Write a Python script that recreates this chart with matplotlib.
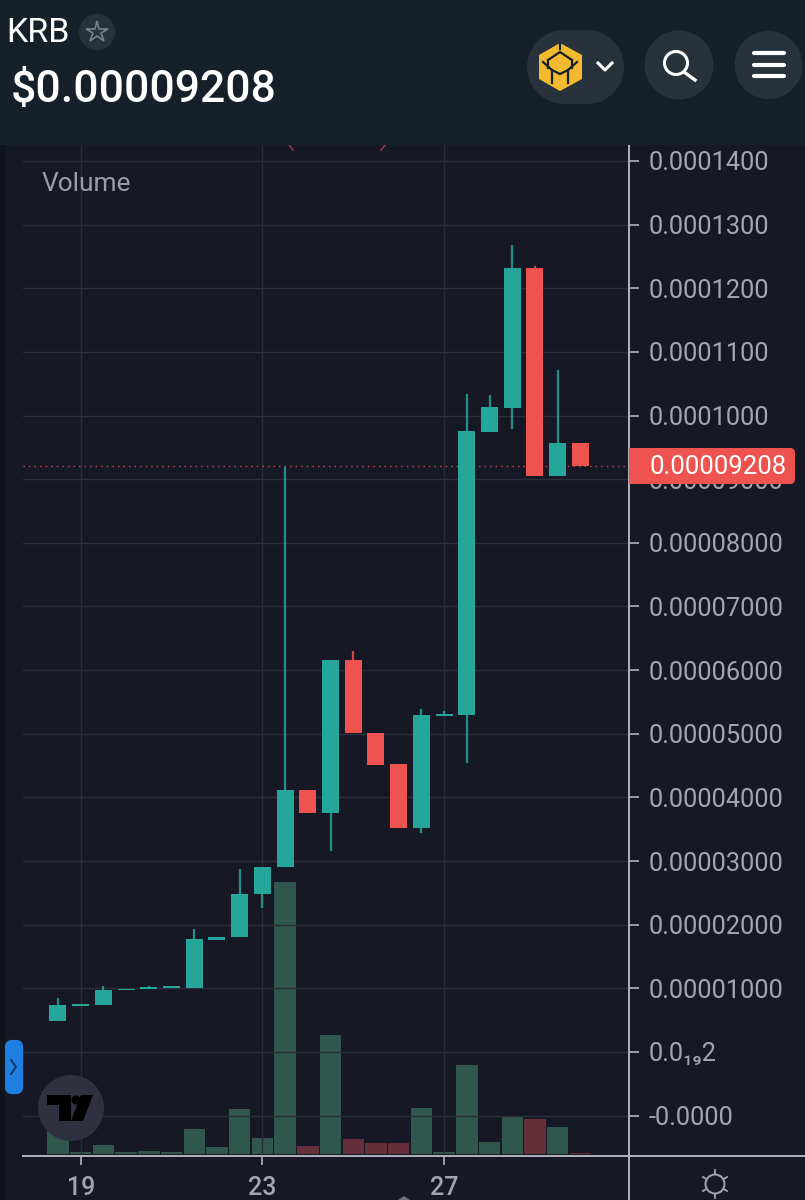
# KRB 12h candles with volume, dark mobile chart
import numpy as np
import matplotlib.pyplot as plt
from matplotlib.patches import Rectangle, Circle, FancyBboxPatch, Polygon, Ellipse

plt.rcParams['font.family'] = ['Roboto', 'DejaVu Sans']

# candles, prices in units of 0.00001
days = [18.5, 19, 19.5, 20, 20.5, 21, 21.5, 22, 22.5, 23, 23.5, 24,
        24.5, 25, 25.5, 26, 26.5, 27, 27.5, 28, 28.5, 29, 29.5, 30]
opens = [0.49, 0.73, 0.74, 0.97, 0.99, 1.01, 1.01, 1.76, 1.81, 2.48, 2.90, 4.12,
         3.75, 6.16, 5.01, 4.52, 3.52, 5.28, 5.30, 9.74, 10.12, 12.32, 9.05, 9.57]
highs = [0.85, 0.76, 1.04, 0.99, 1.04, 1.04, 1.93, 1.81, 2.88, 2.91, 9.19, 4.12,
         6.16, 6.30, 5.01, 4.52, 5.39, 5.36, 10.34, 10.32, 12.68, 12.35, 10.71, 9.57]
lows = [0.49, 0.73, 0.74, 0.97, 0.99, 1.01, 1.01, 1.76, 1.81, 2.26, 2.90, 3.75,
        3.16, 5.01, 4.51, 3.52, 3.44, 5.28, 4.54, 9.74, 9.79, 9.05, 9.05, 9.208]
closes = [0.74, 0.75, 0.97, 0.99, 1.02, 1.03, 1.78, 1.80, 2.48, 2.91, 4.12, 3.75,
          6.16, 5.01, 4.51, 3.52, 5.29, 5.31, 9.76, 10.13, 12.32, 9.05, 9.57, 9.208]
volumes = [30, 2, 9, 2, 3.5, 2, 25, 7, 45, 16, 272, 8,
           119, 15, 11, 11, 46, 2, 89, 12, 38, 35, 27, 1]

last_price = 9.208
y_ticks = [14, 13, 12, 11, 10, 9, 8, 7, 6, 5, 4, 3, 2, 1, 0, -1]
y_labels = ['0.0001400', '0.0001300', '0.0001200', '0.0001100', '0.0001000',
            '0.00009000', '0.00008000', '0.00007000', '0.00006000', '0.00005000',
            '0.00004000', '0.00003000', '0.00002000', '0.00001000', '0.0₁₉2', '-0.0000']
x_ticks = [19, 23, 27]
x_labels = ['19', '23', '27']

UP = '#26a69a'
DOWN = '#ef5350'
BG = '#161925'
HEAD = '#15202a'
BTN = '#27323d'
GRID = '#2a2e3a'
AXC = '#b2b5be'
LABEL = '#a3a6af'

fig = plt.figure(figsize=(8.05, 12), dpi=100, facecolor=BG)


def box(left, top, right, bottom):
    return [left / 805, 1 - bottom / 1200, (right - left) / 805, (bottom - top) / 1200]


# volume sits under the price axes
ax_vol = fig.add_axes(box(23, 145, 629, 1156), zorder=1)
ax_vol.set_xlim(17.73, 31.07)
ax_vol.set_ylim(-2, 1009)
ax_vol.axis('off')
vol_cols = ['#2f574b' if c >= o else '#642e3a' for o, c in zip(opens, closes)]
ax_vol.bar(days, volumes, width=0.47, color=vol_cols)

ax = fig.add_axes(box(23, 145, 629, 1156), zorder=2)
ax.patch.set_alpha(0)
ax.set_xlim(17.73, 31.07)
ax.set_ylim(-1.634, 14.25)

cols = [UP if c >= o else DOWN for o, c in zip(opens, closes)]
ax.vlines(days, lows, highs, colors=cols, linewidth=1.6, alpha=0.85, zorder=3)
ax.bar(days, np.abs(np.array(closes) - np.array(opens)), bottom=np.minimum(opens, closes),
       width=0.375, color=cols, zorder=4)
ax.axhline(last_price, color=DOWN, linewidth=1, linestyle=(0, (1, 3)), alpha=0.8, zorder=2)

ax.yaxis.tick_right()
ax.set_yticks(y_ticks)
ax.set_yticklabels(y_labels, fontsize=18.3, color=LABEL)
ax.set_xticks(x_ticks)
ax.set_xticklabels(x_labels, fontsize=18, color=LABEL, fontweight='medium')
ax.tick_params(axis='y', length=7, width=1.2, color=AXC, pad=7)
ax.tick_params(axis='x', length=6.5, width=1.2, color=AXC, pad=8)
ax.grid(True, color=GRID, linewidth=1)
ax.set_axisbelow(True)
for side in ['top', 'left']:
    ax.spines[side].set_visible(False)
for side in ['right', 'bottom']:
    ax.spines[side].set_color(AXC)
    ax.spines[side].set_linewidth(1.4)

# page furniture in pixel coordinates
ov = fig.add_axes([0, 0, 1, 1], zorder=5)
ov.set_xlim(0, 805)
ov.set_ylim(1200, 0)
ov.axis('off')
ov.patch.set_alpha(0)

ov.add_patch(Rectangle((0, 145), 5, 1055, color='#10141c', lw=0))
ov.plot([629, 629], [1156, 1200], color=AXC, lw=1.4)
ov.plot([629, 805], [1156, 1156], color=AXC, lw=1.4)
ov.plot([289, 293], [145, 150], color='#8c3a42', lw=1.2)
ov.plot([385, 381], [145, 150], color='#8c3a42', lw=1.2)
ov.text(42, 184, 'Volume', fontsize=19, color='#9a9da6', va='center', ha='left')

# last price tag
ov.add_patch(FancyBboxPatch((629, 448), 166, 36, boxstyle='round,pad=0,rounding_size=5',
                            fc=DOWN, ec='none', zorder=3))
ov.add_patch(Rectangle((629, 448), 8, 36, color=DOWN, lw=0, zorder=3))
ov.text(649, 466.5, '0.00009208', fontsize=18.5, color='white', va='center', ha='left', zorder=4)

# header
ov.add_patch(Rectangle((0, 0), 805, 145, color=HEAD, lw=0, zorder=6))
ov.text(6, 33, 'KRB', fontsize=24.5, color='white', fontweight='regular', va='center', ha='left', zorder=7)
ov.add_patch(Circle((97, 32), 18, color=BTN, lw=0, zorder=7))
ov.plot([97], [32], marker='*', ms=16, mfc='none', mec='#74828f', mew=1.2, zorder=8)
ov.text(11, 90, '$0.00009208', fontsize=32, color='white', fontweight='medium',
        va='center', ha='left', zorder=7)

ov.add_patch(Rectangle((564, 30), 23, 74, color=BTN, lw=0, zorder=7))
ov.add_patch(Ellipse((564, 67), 74, 74, color=BTN, lw=0, zorder=7))
ov.add_patch(Ellipse((587, 67), 74, 74, color=BTN, lw=0, zorder=7))
ov.add_patch(Polygon([(560, 43), (582, 55), (582, 79), (560, 91), (539, 79), (539, 55)],
                     fc='#f3ba2f', ec='none', zorder=8))
for seg in [[(548, 60), (560, 52), (572, 60)], [(543, 62), (552, 70), (552, 83)],
            [(577, 62), (568, 70), (568, 83)], [(552, 70), (560, 74), (568, 70)],
            [(560, 43), (560, 49)], [(548, 60), (548, 68)], [(572, 60), (572, 68)]]:
    ov.plot(*zip(*seg), color=HEAD, lw=1.6, zorder=9)
ov.plot([598, 605, 612], [63, 70, 63], color='white', lw=2.2, zorder=8)

ov.add_patch(Circle((679, 65), 34.5, color=BTN, lw=0, zorder=7))
ov.add_patch(Circle((676, 63), 11.5, fc='none', ec='white', lw=2.2, zorder=8))
ov.plot([684, 695], [72, 80], color='white', lw=2.4, zorder=8)

ov.add_patch(Circle((768.5, 65), 34, color=BTN, lw=0, zorder=7))
for yy in [53, 65, 76]:
    ov.plot([754, 784], [yy, yy], color='white', lw=3, solid_capstyle='round', zorder=8)

# side tab, logo, theme icon
ov.add_patch(FancyBboxPatch((7, 1042), 14, 50, boxstyle='round,pad=0,rounding_size=5',
                            fc='#1e7fe0', ec='#1e7fe0', lw=3, zorder=6))
ov.plot([11, 16, 11], [1060, 1067, 1074], color='#0d3560', lw=1.3, zorder=7)

ov.add_patch(Circle((71, 1108), 33, color='#2f3140', lw=0, zorder=6))
ov.add_patch(Polygon([(47, 1095), (71, 1095), (71, 1121), (59, 1121), (59, 1105), (47, 1105)],
                     fc='black', ec='none', zorder=7))
ov.add_patch(Circle((76, 1100), 4.5, color='black', lw=0, zorder=7))
ov.add_patch(Polygon([(81, 1095), (93, 1095), (83, 1121), (71, 1121)], fc='black', ec='none', zorder=7))

ov.add_patch(Circle((715, 1184), 9.5, fc='none', ec=LABEL, lw=1.4))
for a in np.deg2rad([30, 90, 150, 210, 270, 330]):
    ov.plot([715 + 10 * np.cos(a), 715 + 14 * np.cos(a)],
            [1184 + 10 * np.sin(a), 1184 + 14 * np.sin(a)], color=LABEL, lw=1.3)
ov.add_patch(Polygon([(398, 1200), (404, 1196), (410, 1200)], fc='#6f7380', ec='none'))

fig.savefig('out.png', dpi=100, facecolor=fig.get_facecolor())
